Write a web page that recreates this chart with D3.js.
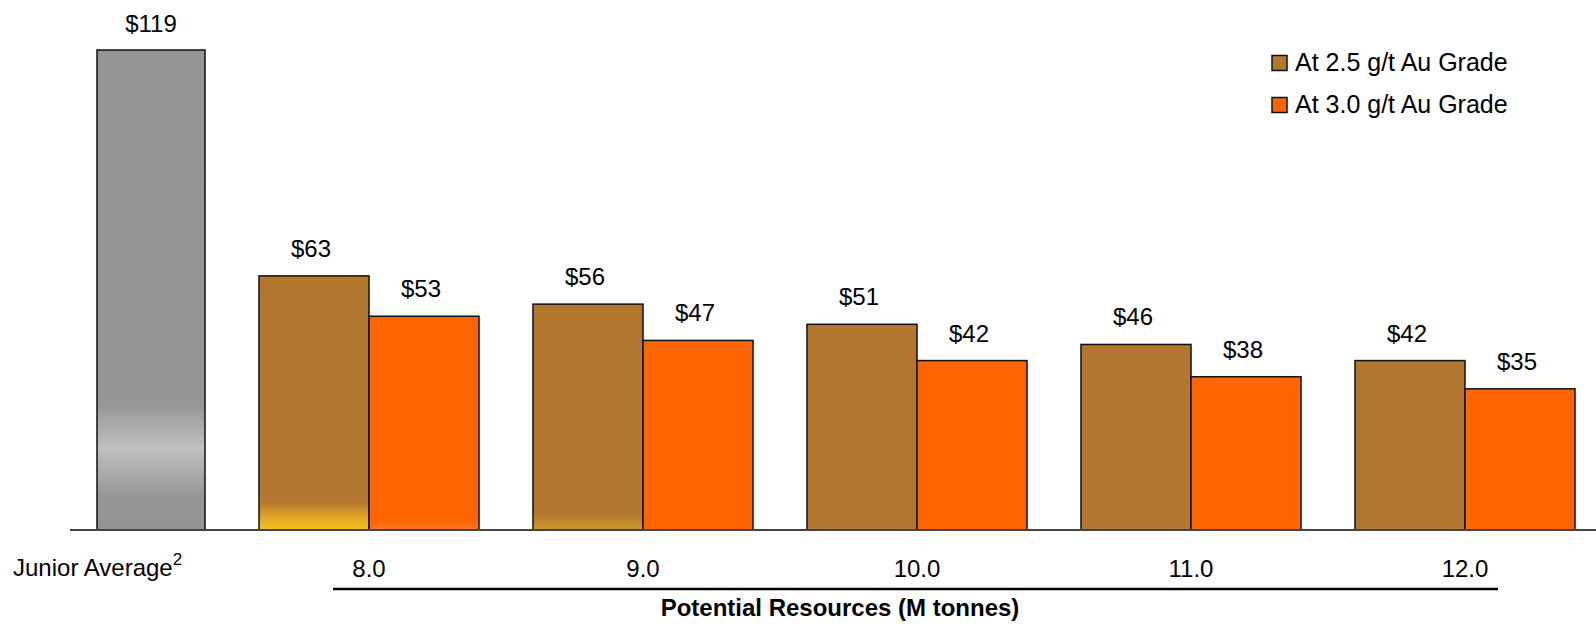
<!DOCTYPE html>
<html>
<head>
<meta charset="utf-8">
<script src="https://cdn.jsdelivr.net/npm/d3@7/dist/d3.min.js"></script>
<style>
  body { margin: 0; background: #fff; }
  svg { display: block; font-family: "Liberation Sans", Arial, sans-serif; }
</style>
</head>
<body>
<div id="chart"></div>
<script>
// data
const juniorLabel = "Junior Average";
const juniorValue = 119;
const tonnes = ["8.0", "9.0", "10.0", "11.0", "12.0"];
const grade25 = [63, 56, 51, 46, 42];
const grade30 = [53, 47, 42, 38, 35];
const seriesNames = ["At 2.5 g/t Au Grade", "At 3.0 g/t Au Grade"];
const axisTitle = "Potential Resources (M tonnes)";

const width = 1596, height = 633;
const baseline = 530;

const svg = d3.select("#chart").append("svg")
  .attr("width", width)
  .attr("height", height);

const defs = svg.append("defs");

// gray bar with a light band near its foot
const gGray = defs.append("linearGradient").attr("id", "gray").attr("x1", 0).attr("x2", 0).attr("y1", 0).attr("y2", 1);
[[0, "#959595"], [0.74, "#969696"], [0.83, "#c0c0c0"], [0.93, "#969696"], [1, "#949494"]]
  .forEach(s => gGray.append("stop").attr("offset", s[0]).attr("stop-color", s[1]));

// brown bars, the first two fade to yellow at the bottom
const brownStops = [
  [[0, "#b4772f"], [0.89, "#b4772f"], [0.95, "#e0a826"], [1, "#f5c21f"]],
  [[0, "#b4772f"], [0.93, "#b4772f"], [1, "#cf9a29"]],
  [[0, "#b4772f"], [1, "#b4772f"]]
];
brownStops.forEach((stops, i) => {
  const g = defs.append("linearGradient").attr("id", "brown" + i).attr("x1", 0).attr("x2", 0).attr("y1", 0).attr("y2", 1);
  stops.forEach(s => g.append("stop").attr("offset", s[0]).attr("stop-color", s[1]));
});
const gOr = defs.append("linearGradient").attr("id", "orange0").attr("x1", 0).attr("x2", 0).attr("y1", 0).attr("y2", 1);
[[0, "#ff6600"], [0.96, "#ff6600"], [1, "#ff7428"]]
  .forEach(s => gOr.append("stop").attr("offset", s[0]).attr("stop-color", s[1]));

const y = d3.scaleLinear()
  .domain([0, juniorValue])
  .range([baseline, 50]);

const xJunior = d3.scaleBand()
  .domain([juniorLabel])
  .range([70, 232])
  .paddingInner(1 / 3)
  .paddingOuter(1 / 6);

const x0 = d3.scaleBand()
  .domain(tonnes)
  .range([232, 1602])
  .paddingInner(54 / 274)
  .paddingOuter(27 / 274);

const x1 = d3.scaleBand()
  .domain([0, 1])
  .range([0, x0.bandwidth()]);

// junior bar
svg.append("rect")
  .attr("x", xJunior(juniorLabel))
  .attr("width", xJunior.bandwidth())
  .attr("y", y(juniorValue))
  .attr("height", baseline - y(juniorValue))
  .attr("fill", "url(#gray)")
  .attr("stroke", "#111")
  .attr("stroke-width", 1.5);

svg.append("text")
  .attr("x", xJunior(juniorLabel) + xJunior.bandwidth() / 2)
  .attr("y", y(juniorValue) - 18)
  .attr("text-anchor", "middle")
  .attr("font-size", 24)
  .text("$" + juniorValue);

// grouped bars
const groups = svg.selectAll("g.grp")
  .data(tonnes.map((t, i) => ({t, i, vals: [grade25[i], grade30[i]]})))
  .join("g")
  .attr("class", "grp")
  .attr("transform", d => `translate(${x0(d.t)},0)`);

groups.selectAll("rect")
  .data(d => d.vals.map((v, k) => ({v, k, i: d.i})))
  .join("rect")
  .attr("x", d => x1(d.k))
  .attr("width", x1.bandwidth())
  .attr("y", d => y(d.v))
  .attr("height", d => baseline - y(d.v))
  .attr("fill", d => d.k === 0 ? `url(#brown${Math.min(d.i, 2)})` : (d.i === 0 ? "url(#orange0)" : "#ff6600"))
  .attr("stroke", "#111")
  .attr("stroke-width", 1.5);

groups.selectAll("text.val")
  .data(d => d.vals.map((v, k) => ({v, k})))
  .join("text")
  .attr("class", "val")
  .attr("x", d => x1(d.k) + x1.bandwidth() / 2 - 3)
  .attr("y", d => y(d.v) - 19)
  .attr("text-anchor", "middle")
  .attr("font-size", 24)
  .text(d => "$" + d.v);

// baseline
svg.append("line")
  .attr("x1", 70).attr("x2", width)
  .attr("y1", baseline).attr("y2", baseline)
  .attr("stroke", "#444")
  .attr("stroke-width", 2);

// category labels
const jl = svg.append("text")
  .attr("x", 13)
  .attr("y", 576)
  .attr("font-size", 24)
  .text(juniorLabel);
jl.append("tspan")
  .attr("font-size", 17)
  .attr("dy", -11)
  .text("2");

svg.selectAll("text.cat")
  .data(tonnes)
  .join("text")
  .attr("class", "cat")
  .attr("x", d => x0(d) + x0.bandwidth() / 2)
  .attr("y", 577)
  .attr("text-anchor", "middle")
  .attr("font-size", 24)
  .text(d => d);

svg.append("line")
  .attr("x1", 333).attr("x2", 1498)
  .attr("y1", 589).attr("y2", 589)
  .attr("stroke", "#000")
  .attr("stroke-width", 2.5);

svg.append("text")
  .attr("x", 840)
  .attr("y", 616)
  .attr("text-anchor", "middle")
  .attr("font-size", 24)
  .attr("font-weight", "bold")
  .text(axisTitle);

// legend
const legend = svg.append("g").attr("transform", "translate(1272,0)");
const legColors = ["#b4772f", "#ff6600"];
seriesNames.forEach((name, i) => {
  const ly = 63 + i * 42;
  legend.append("rect")
    .attr("x", 0).attr("y", ly - 7.5)
    .attr("width", 15).attr("height", 15)
    .attr("fill", legColors[i])
    .attr("stroke", "#111")
    .attr("stroke-width", 1.5);
  legend.append("text")
    .attr("x", 23).attr("y", ly + 8)
    .attr("font-size", 25)
    .text(name);
});
</script>
</body>
</html>
